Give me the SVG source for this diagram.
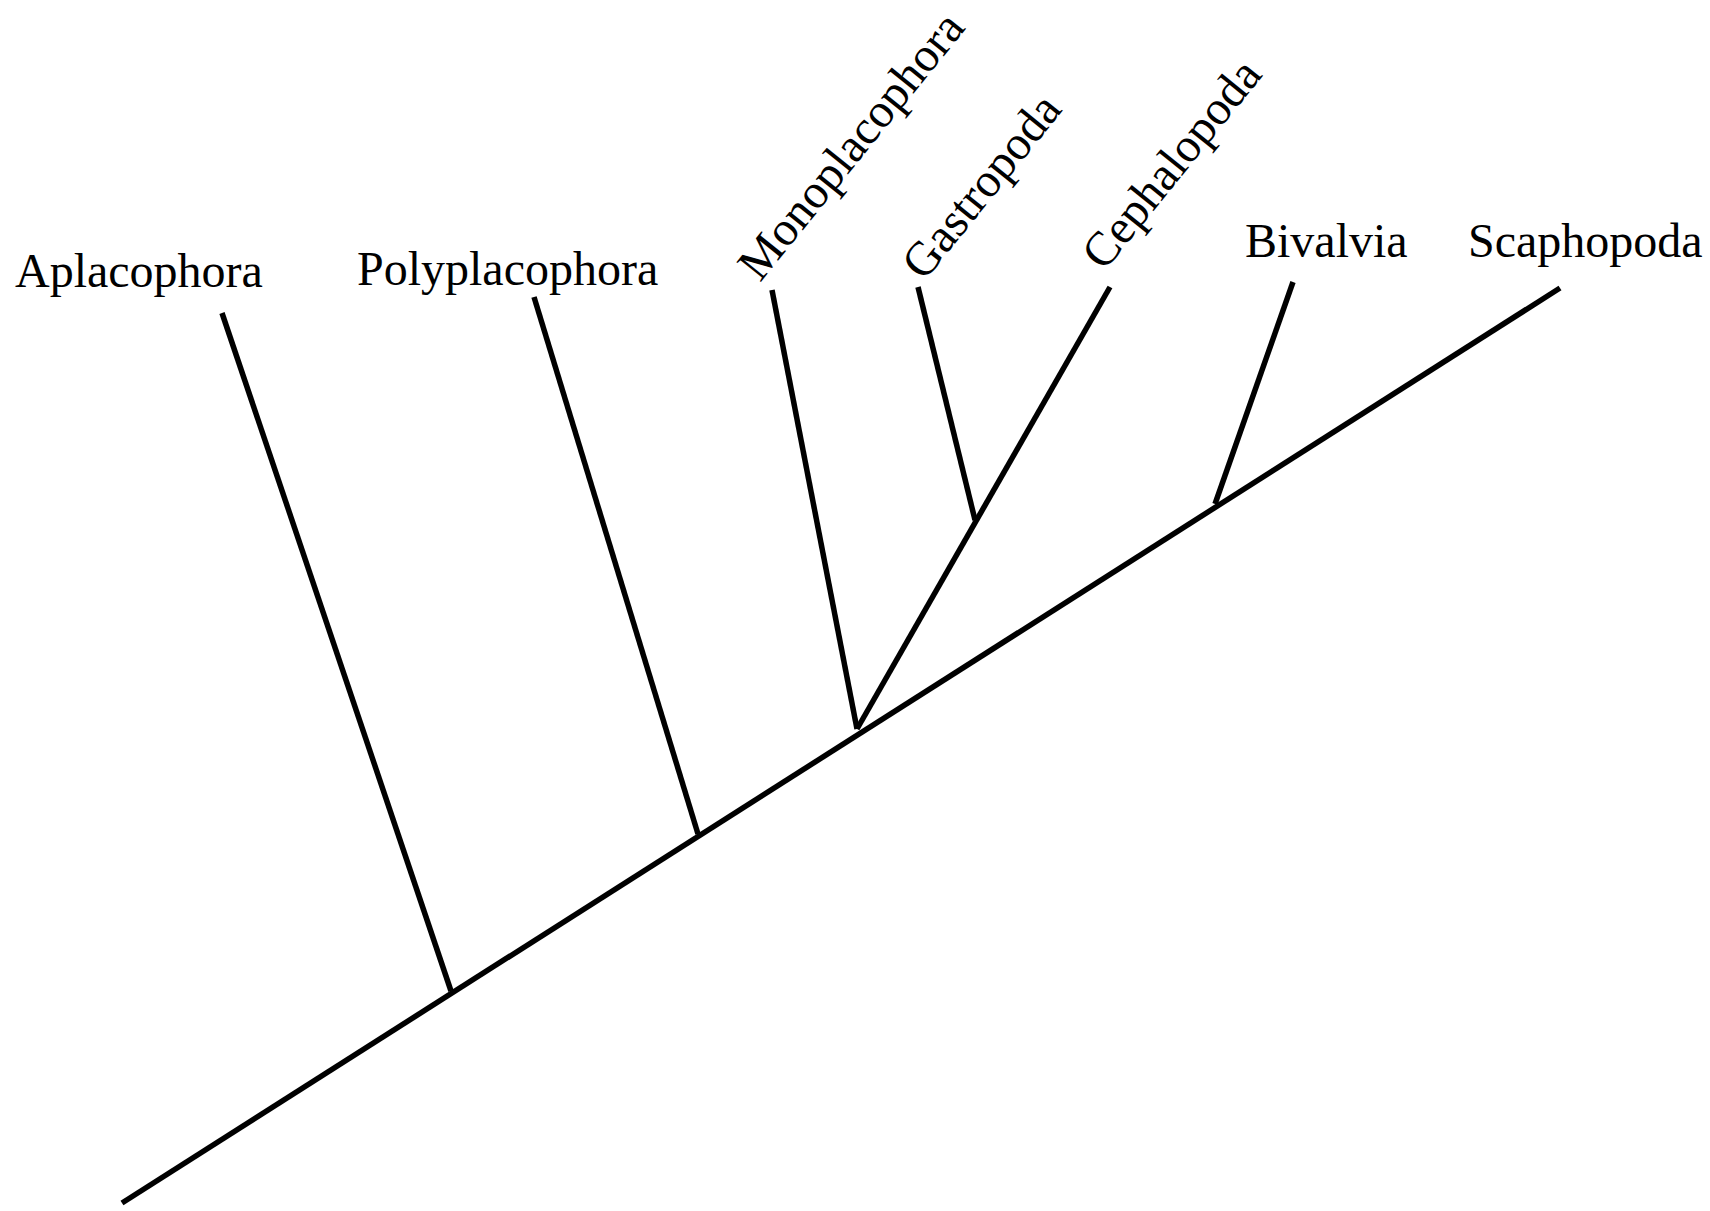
<svg xmlns="http://www.w3.org/2000/svg" width="1710" height="1211" viewBox="0 0 1710 1211">
<style>
.t{font-family:"Liberation Serif","Times New Roman",serif;font-size:48px;fill:#000}
.e{stroke:#000;stroke-width:5.5;fill:none;stroke-linecap:butt}
</style>
<rect width="1710" height="1211" fill="#fff"/>
<g id="connectors">
<line class="e" x1="122" y1="1203" x2="1560" y2="288"/>
<line class="e" x1="222" y1="313" x2="451" y2="991"/>
<line class="e" x1="534" y1="297" x2="698" y2="834"/>
<line class="e" x1="772" y1="290" x2="857" y2="729"/>
<line class="e" x1="1110" y1="287" x2="857" y2="729"/>
<line class="e" x1="918" y1="287" x2="975" y2="520"/>
<line class="e" x1="1293" y1="282" x2="1215" y2="504"/>
</g>
<g id="Aplacophora"><text class="t" x="15" y="287">Aplacophora</text></g>
<g id="Polyplacophora"><text class="t" x="357" y="285">Polyplacophora</text></g>
<g id="Monoplacophora"><text class="t" transform="translate(760,283) rotate(-51)">Monoplacophora</text></g>
<g id="Gastropoda"><text class="t" transform="translate(924,282) rotate(-51)">Gastropoda</text></g>
<g id="Cephalopoda"><text class="t" transform="translate(1104,272) rotate(-51)">Cephalopoda</text></g>
<g id="Bivalvia"><text class="t" x="1245" y="257">Bivalvia</text></g>
<g id="Scaphopoda"><text class="t" x="1468" y="257">Scaphopoda</text></g>
</svg>
